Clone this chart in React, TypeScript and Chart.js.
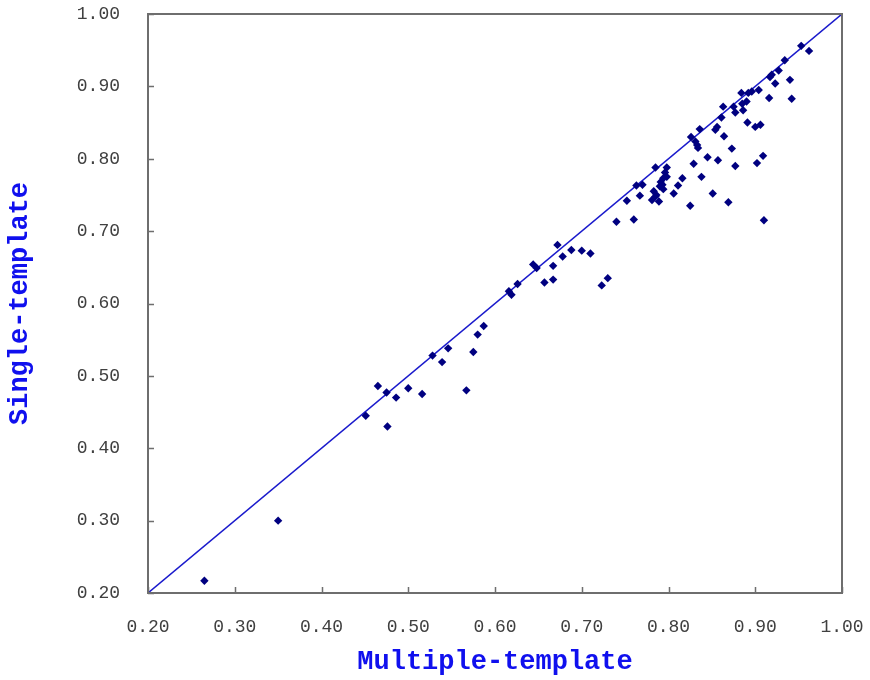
import React, { useEffect, useRef } from "react";
import { Chart, registerables } from "chart.js";

Chart.register(...registerables);

const multipleTemplate: number[] = [
  0.265, 0.35, 0.451, 0.465, 0.475, 0.476, 0.486, 0.5, 0.516, 0.528, 0.539, 0.546, 0.567, 0.575, 0.58, 0.587,
  0.616, 0.619, 0.626, 0.644, 0.648, 0.657, 0.667, 0.667, 0.672, 0.678, 0.688, 0.7, 0.71, 0.723, 0.73, 0.74,
  0.752, 0.76, 0.763, 0.767, 0.77, 0.781, 0.783, 0.785, 0.786, 0.789, 0.785, 0.79, 0.791, 0.793, 0.794, 0.794,
  0.796, 0.798, 0.798, 0.806, 0.811, 0.816, 0.825, 0.826, 0.829, 0.831, 0.833, 0.834, 0.836, 0.838, 0.845,
  0.851, 0.854, 0.856, 0.857, 0.861, 0.863, 0.864, 0.869, 0.873, 0.875, 0.877, 0.877, 0.884, 0.885, 0.886,
  0.89, 0.891, 0.892, 0.896, 0.9, 0.902, 0.904, 0.906, 0.909, 0.91, 0.916, 0.917, 0.919, 0.923, 0.927, 0.934,
  0.94, 0.942, 0.953, 0.962,
];

const singleTemplate: number[] = [
  0.217, 0.3, 0.445, 0.486, 0.477, 0.43, 0.47, 0.483, 0.475, 0.528, 0.519, 0.538, 0.48, 0.533, 0.557, 0.569,
  0.617, 0.612, 0.627, 0.654, 0.649, 0.629, 0.633, 0.652, 0.681, 0.665, 0.674, 0.673, 0.669, 0.625, 0.635, 0.713,
  0.742, 0.716, 0.763, 0.749, 0.764, 0.743, 0.755, 0.748, 0.75, 0.741, 0.788, 0.762, 0.768, 0.764, 0.758, 0.773,
  0.781, 0.775, 0.788, 0.752, 0.763, 0.773, 0.735, 0.83, 0.793, 0.824, 0.819, 0.815, 0.841, 0.775, 0.802,
  0.752, 0.84, 0.844, 0.798, 0.857, 0.872, 0.831, 0.74, 0.814, 0.872, 0.864, 0.79, 0.891, 0.876, 0.867,
  0.879, 0.85, 0.891, 0.893, 0.844, 0.794, 0.895, 0.847, 0.804, 0.715, 0.884, 0.913, 0.916, 0.904, 0.922, 0.936,
  0.909, 0.883, 0.956, 0.949,
];

const diagonalX: number[] = [0.2, 1.0];
const diagonalY: number[] = [0.2, 1.0];

const axisMin = 0.2;
const axisMax = 1.0;
const axisStep = 0.1;

const xTitle = "Multiple-template";
const yTitle = "Single-template";

const frameAndTicks = {
  id: "frameAndTicks",
  afterDraw(chart: any) {
    const { ctx, chartArea, scales } = chart;
    const xs = scales.x;
    const ys = scales.y;
    ctx.save();
    ctx.strokeStyle = "#6e6e6e";
    ctx.lineWidth = 1.5;
    ctx.beginPath();
    xs.ticks.forEach((t: any) => {
      const px = Math.round(xs.getPixelForValue(t.value)) + 0.5;
      ctx.moveTo(px, chartArea.bottom);
      ctx.lineTo(px, chartArea.bottom - 6);
    });
    ys.ticks.forEach((t: any) => {
      const py = Math.round(ys.getPixelForValue(t.value)) + 0.5;
      ctx.moveTo(chartArea.left, py);
      ctx.lineTo(chartArea.left + 6, py);
    });
    ctx.stroke();
    ctx.lineWidth = 2;
    ctx.strokeRect(chartArea.left, chartArea.top, chartArea.right - chartArea.left, chartArea.bottom - chartArea.top);
    ctx.restore();
  },
};

export default function App() {
  const canvasRef = useRef<HTMLCanvasElement | null>(null);

  useEffect(() => {
    if (!canvasRef.current) return;
    const points = multipleTemplate.map((x, i) => ({ x, y: singleTemplate[i] }));
    const diag = diagonalX.map((x, i) => ({ x, y: diagonalY[i] }));
    const chart = new Chart(canvasRef.current, {
      type: "scatter",
      data: {
        datasets: [
          {
            type: "line",
            data: diag,
            borderColor: "#1a1acc",
            borderWidth: 1.5,
            pointRadius: 0,
            fill: false,
            order: 2,
          } as any,
          {
            type: "scatter",
            data: points,
            backgroundColor: "#000080",
            borderColor: "#000080",
            pointStyle: "rectRot",
            pointRadius: 4.2,
            borderWidth: 0,
            order: 1,
          } as any,
        ],
      },
      plugins: [frameAndTicks],
      options: {
        animation: false,
        responsive: true,
        maintainAspectRatio: false,
        layout: { padding: { top: 14, right: 28, left: 0, bottom: 0 } },
        plugins: { legend: { display: false }, tooltip: { enabled: false } },
        scales: {
          x: {
            type: "linear",
            min: axisMin,
            max: axisMax,
            afterFit: (s: any) => {
              s.height = 87;
              s.paddingLeft = 0;
              s.paddingRight = 0;
            },
            border: { display: false },
            grid: { display: false, drawTicks: false },
            ticks: {
              stepSize: axisStep,
              padding: 23,
              color: "#404040",
              font: { family: "'Liberation Mono', monospace", size: 18 },
              callback: (v: any) => Number(v).toFixed(2),
            },
            title: {
              display: true,
              text: xTitle,
              color: "#1010ee",
              padding: { top: 0, bottom: 2 },
              font: { family: "'Liberation Mono', monospace", size: 27, weight: "bold" },
            },
          },
          y: {
            type: "linear",
            min: axisMin,
            max: axisMax,
            afterFit: (s: any) => {
              s.width = 148;
              s.paddingTop = 0;
              s.paddingBottom = 0;
            },
            border: { display: false },
            grid: { display: false, drawTicks: false },
            ticks: {
              stepSize: axisStep,
              padding: 28,
              color: "#404040",
              font: { family: "'Liberation Mono', monospace", size: 18 },
              callback: (v: any) => Number(v).toFixed(2),
            },
            title: {
              display: true,
              text: yTitle,
              color: "#1010ee",
              padding: { top: 4, bottom: 0 },
              font: { family: "'Liberation Mono', monospace", size: 27, weight: "bold" },
            },
          },
        },
      } as any,
    });
    return () => chart.destroy();
  }, []);

  return (
    <div style={{ position: "fixed", left: 0, top: 0, width: 870, height: 680, background: "#fff" }}>
      <canvas ref={canvasRef} />
    </div>
  );
}
